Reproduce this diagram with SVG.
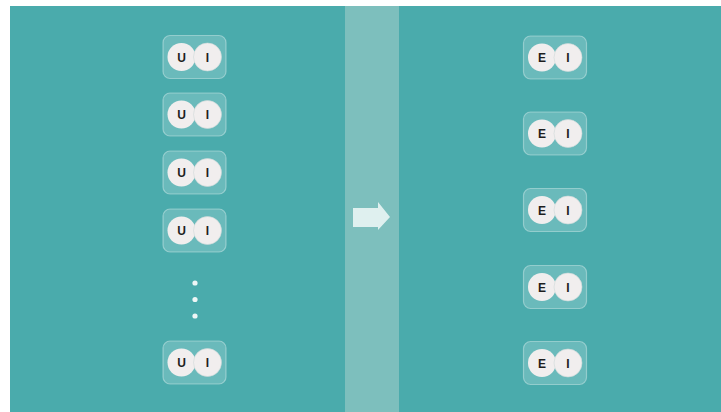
<svg xmlns="http://www.w3.org/2000/svg" width="721" height="412" viewBox="0 0 721 412">
<style>
.box{fill:#ffffff;fill-opacity:0.18;stroke:#ffffff;stroke-opacity:0.35;stroke-width:1.2}
.c{fill:#f1eeee}
.t{font-family:"Liberation Sans",Arial,sans-serif;font-weight:bold;font-size:12px;fill:#1e1e1e;text-anchor:middle}
</style>
<defs>
<g id="ui">
<rect class="box" x="-31.5" y="-21.5" width="63" height="43" rx="7"/>
<circle class="c" cx="-13" cy="0" r="14"/>
<circle class="c" cx="13" cy="0" r="14" stroke="#cfd8d8" stroke-width="0.6"/>
</g>
</defs>
<rect x="0" y="0" width="721" height="412" fill="#ffffff"/>
<rect x="10" y="6" width="711" height="406" fill="#4aabac"/>
<rect x="345" y="6" width="54" height="406" fill="#7dbfbd"/>
<g id="left">
<g id="u1" transform="translate(194.5,57)"><use href="#ui"/><text class="t" x="-13" y="4.5">U</text><text class="t" x="13" y="4.5">I</text></g>
<g id="u2" transform="translate(194.5,114.5)"><use href="#ui"/><text class="t" x="-13" y="4.5">U</text><text class="t" x="13" y="4.5">I</text></g>
<g id="u3" transform="translate(194.5,172.5)"><use href="#ui"/><text class="t" x="-13" y="4.5">U</text><text class="t" x="13" y="4.5">I</text></g>
<g id="u4" transform="translate(194.5,230.5)"><use href="#ui"/><text class="t" x="-13" y="4.5">U</text><text class="t" x="13" y="4.5">I</text></g>
<g id="dots" fill="#eef6f6"><circle cx="195" cy="283" r="2.6"/><circle cx="195" cy="299.5" r="2.6"/><circle cx="195" cy="316" r="2.6"/></g>
<g id="u5" transform="translate(194.5,362.5)"><use href="#ui"/><text class="t" x="-13" y="4.5">U</text><text class="t" x="13" y="4.5">I</text></g>
</g>
<g id="connectors">
<polygon points="353,208 378,208 378,202 390,217 378,230 378,227 353,227" fill="#dff0ef"/>
</g>
<g id="right">
<g id="e1" transform="translate(555,57.5)"><use href="#ui"/><text class="t" x="-13" y="4.5">E</text><text class="t" x="13" y="4.5">I</text></g>
<g id="e2" transform="translate(555,133.5)"><use href="#ui"/><text class="t" x="-13" y="4.5">E</text><text class="t" x="13" y="4.5">I</text></g>
<g id="e3" transform="translate(555,210)"><use href="#ui"/><text class="t" x="-13" y="4.5">E</text><text class="t" x="13" y="4.5">I</text></g>
<g id="e4" transform="translate(555,287)"><use href="#ui"/><text class="t" x="-13" y="4.5">E</text><text class="t" x="13" y="4.5">I</text></g>
<g id="e5" transform="translate(555,363)"><use href="#ui"/><text class="t" x="-13" y="4.5">E</text><text class="t" x="13" y="4.5">I</text></g>
</g>
</svg>
